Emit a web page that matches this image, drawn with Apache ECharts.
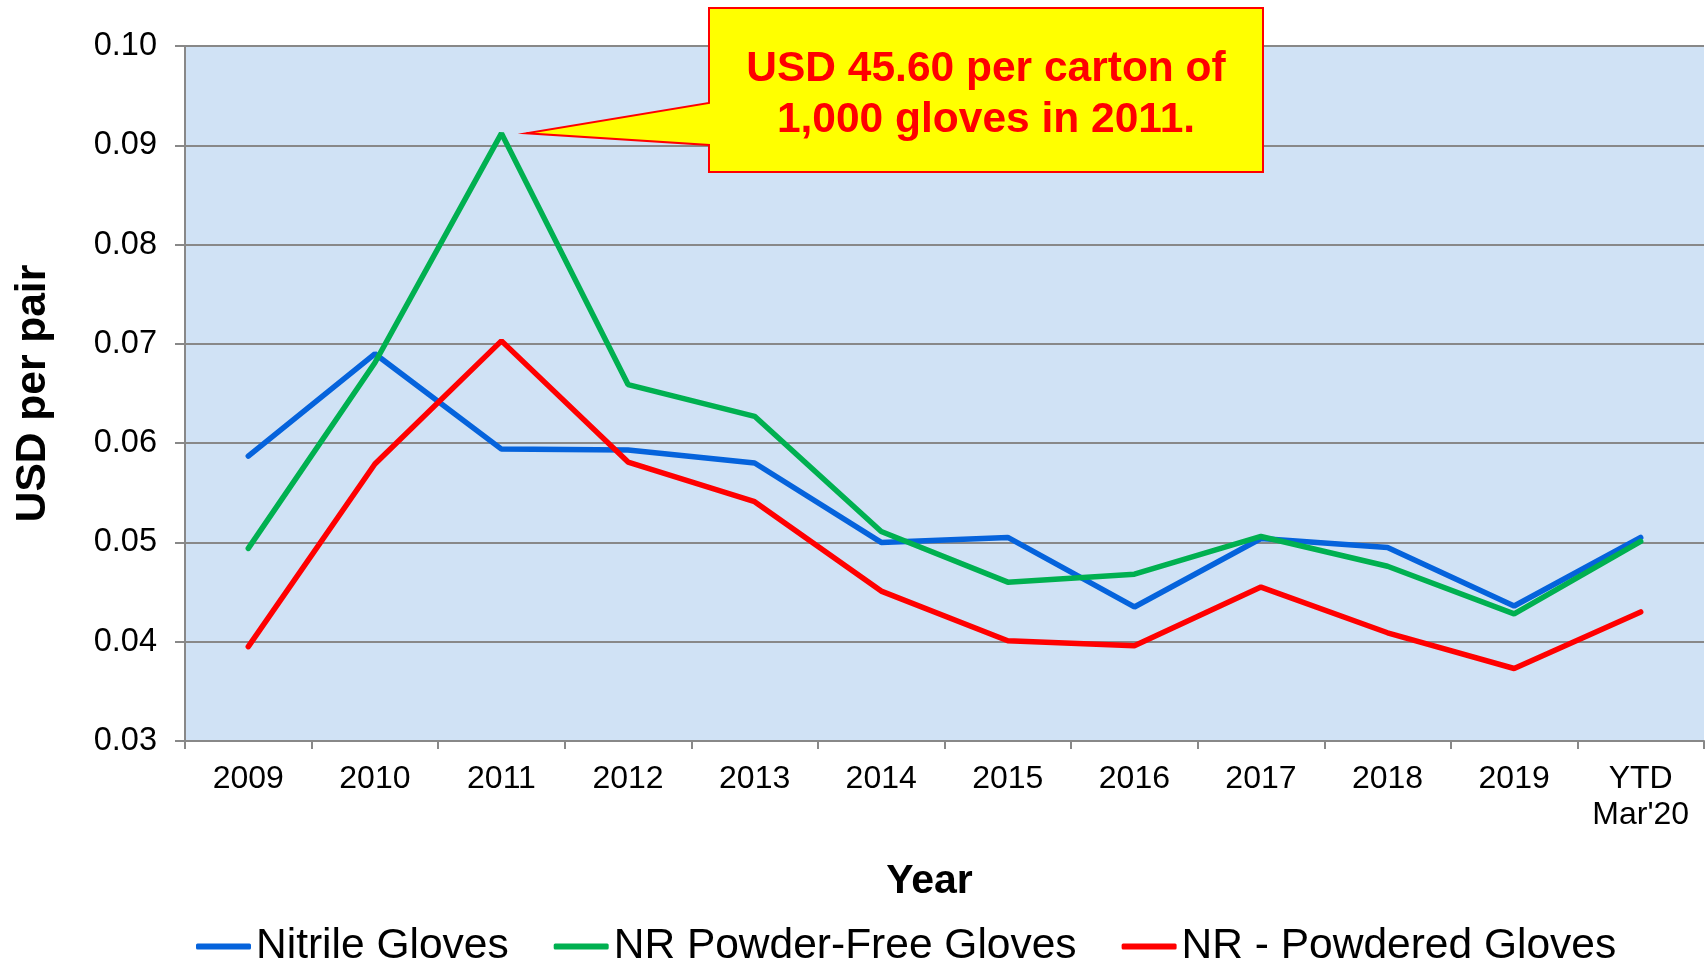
<!DOCTYPE html>
<html>
<head>
<meta charset="utf-8">
<script src="https://cdn.jsdelivr.net/npm/echarts@6/dist/echarts.min.js"></script>
<style>
	html, body { margin: 0; padding: 0; background: #fff; }
	#chart { width: 1707px; height: 966px; }
</style>
</head>
<body>
<div id="chart"></div>
<script>
// categories and values
const years = ["2009", "2010", "2011", "2012", "2013", "2014", "2015", "2016", "2017", "2018", "2019", "YTD\nMar'20"];
const nitrile = [0.0587, 0.0690, 0.0594, 0.0593, 0.0580, 0.0500, 0.0505, 0.0435, 0.0504, 0.0495, 0.0436, 0.0505];
const nrPowderFree = [0.0494, 0.0681, 0.0912, 0.0659, 0.0627, 0.0511, 0.0460, 0.0468, 0.0506, 0.0476, 0.0428, 0.0501];
const nrPowdered = [0.0395, 0.0579, 0.0703, 0.0581, 0.0541, 0.0451, 0.0401, 0.0396, 0.0455, 0.0409, 0.0373, 0.0430];
const yTicks = [0.03, 0.04, 0.05, 0.06, 0.07, 0.08, 0.09, 0.10];
const calloutLines = ["USD 45.60 per carton of", "1,000 gloves in 2011."];

const FONT = "Liberation Sans, Arial, sans-serif";
const chart = echarts.init(document.getElementById("chart"));

function lineSeries(name, data, color) {
	return {
		name: name,
		type: "line",
		data: data,
		symbol: "none",
		lineStyle: { color: color, width: 5.5, cap: "round" },
		itemStyle: { color: color },
		z: 3
	};
}

const option = {
	animation: false,
	textStyle: { fontFamily: FONT },
	grid: {
		left: 185,
		right: 3,
		top: 46,
		bottom: 225,
		show: true,
		backgroundColor: "#d0e2f5",
		borderWidth: 0
	},
	legend: {
		left: 191,
		top: 920,
		itemWidth: 55,
		itemHeight: 6,
		itemGap: 45,
		icon: "roundRect",
		textStyle: { fontSize: 42.5, color: "#000", fontFamily: FONT },
		data: ["Nitrile Gloves", "NR Powder-Free Gloves", "NR - Powdered Gloves"]
	},
	xAxis: {
		type: "category",
		data: years,
		boundaryGap: true,
		name: "Year",
		nameLocation: "middle",
		nameGap: 120,
		nameTextStyle: { fontSize: 41, fontWeight: "bold", color: "#000", padding: [0, 30, 0, 0] },
		axisLine: { lineStyle: { color: "#888", width: 2 } },
		axisTick: { show: true, length: 8, lineStyle: { color: "#888", width: 2 } },
		axisLabel: {
			color: "#000",
			fontSize: 32,
			lineHeight: 36,
			margin: 20,
			interval: 0
		}
	},
	yAxis: {
		type: "value",
		min: yTicks[0],
		max: yTicks[yTicks.length - 1],
		interval: 0.01,
		name: "USD per pair",
		nameLocation: "middle",
		nameGap: 130,
		nameTextStyle: { fontSize: 42.5, fontWeight: "bold", color: "#000" },
		axisLine: { show: true, lineStyle: { color: "#888", width: 2 } },
		axisTick: { show: true, length: 10, lineStyle: { color: "#888", width: 2 } },
		axisLabel: {
			color: "#000",
			fontSize: 32.5,
			margin: 28,
			formatter: function (v) { return v.toFixed(2); }
		},
		splitLine: { lineStyle: { color: "#888", width: 2 } }
	},
	series: [
		lineSeries("Nitrile Gloves", nitrile, "#0563dc"),
		lineSeries("NR Powder-Free Gloves", nrPowderFree, "#00b050"),
		lineSeries("NR - Powdered Gloves", nrPowdered, "#ff0000")
	]
};
chart.setOption(option);

// callout pointing at the 2011 peak of NR Powder-Free
const peak = chart.convertToPixel({ xAxisIndex: 0, yAxisIndex: 0 }, [2, nrPowderFree[2]]);
const tip = [peak[0] + 25, peak[1]];
const box = { x: 709, y: 8, w: 554, h: 164 };
chart.setOption({
	graphic: [
		{
			type: "polygon",
			z: 100,
			shape: {
				points: [
					[box.x, box.y], [box.x + box.w, box.y], [box.x + box.w, box.y + box.h],
					[box.x, box.y + box.h], [box.x, 145], tip, [box.x, 103]
				]
			},
			style: { fill: "#ffff00", stroke: "#ff0000", lineWidth: 2 }
		},
		{
			type: "text",
			z: 101,
			x: box.x + box.w / 2,
			y: box.y + box.h / 2 + 5,
			style: {
				text: calloutLines.join("\n"),
				fill: "#ff0000",
				font: "bold 42.5px " + FONT,
				lineHeight: 51,
				align: "center",
				verticalAlign: "middle"
			}
		}
	]
});
</script>
</body>
</html>
